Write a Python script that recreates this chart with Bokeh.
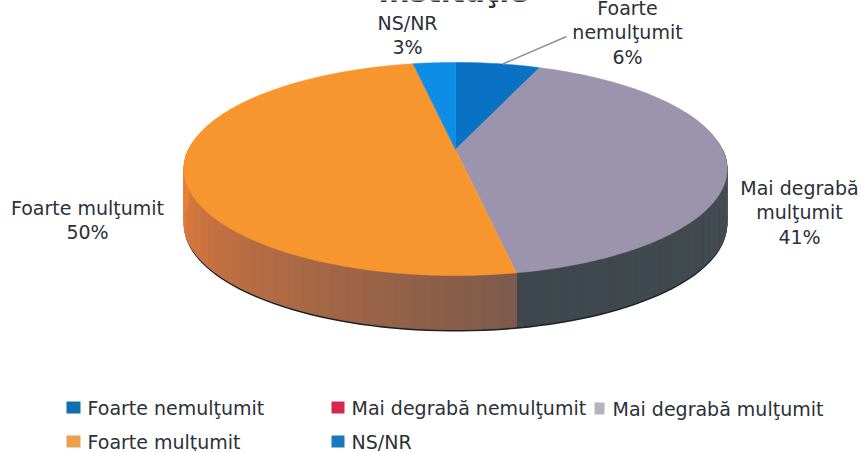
import math
from bokeh.plotting import figure
from bokeh.embed import file_html
from bokeh.resources import INLINE
from bokeh.core.properties import value
from bokeh.models import Range1d

categories = ["Foarte nemulţumit", "Mai degrabă nemulţumit", "Mai degrabă mulţumit", "Foarte mulţumit", "NS/NR"]
values = [6, 0, 41, 50, 3]
top_colors = ["#0a72c4", "#d8274f", "#9b94ac", "#f7962f", "#0d8de6"]
side_start = ["#0a5a9a", "#a01c3c", "#454d52", "#ee7e3a", "#0a6ab0"]
side_end = ["#0a5a9a", "#a01c3c", "#3e474d", "#7c5a4c", "#0a6ab0"]
legend_colors = ["#1070ad", "#d8274f", "#b5b3bd", "#e8a24e", "#1a78bd"]
title_text = "Instituţie"
label_lines = [["Foarte", "nemulţumit", "6%"], [], ["Mai degrabă", "mulţumit", "41%"], ["Foarte mulţumit", "50%"], ["NS/NR", "3%"]]
label_pos = [(628, 8), None, (800, 188), (88, 208), (408, 23)]
legend_pos = [(67, 408), (332, 408), (595, 409), (67, 442), (332, 442)]
legend_widths = [14, 13, 10, 14, 13]

W, H = 859, 451
OX, OY = 1, 1
FONT = "DejaVu Sans"
TEXT = "#2c3038"

CX, AY, A, B, K = 456, 150, 267, 103, 0.183
DEPTH = 54


def rim(deg):
    r = math.radians(deg)
    X, Y = math.sin(r), math.cos(r)
    w = 1 + K * Y
    return CX + A * X / w, AY - B * Y / w


def px(x):
    return x - OX


def py(y):
    return y - OY


p = figure(width=W, height=H, output_backend="svg", toolbar_location=None,
           x_range=Range1d(0, W), y_range=Range1d(H, 0), min_border=0,
           background_fill_color="white", border_fill_color="white")
p.axis.visible = False
p.grid.visible = False
p.outline_line_color = None

total = sum(values)
bounds = []
a = 0.0
for v in values:
    bounds.append((a, a + 360 * v / total))
    a += 360 * v / total


def mix(c1, c2, t):
    a1 = [int(c1[i:i + 2], 16) for i in (1, 3, 5)]
    a2 = [int(c2[i:i + 2], 16) for i in (1, 3, 5)]
    return "#%02x%02x%02x" % tuple(round(u + (w - u) * t) for u, w in zip(a1, a2))


# dark shadow under the rim
low = [rim(d) for d in range(85, 276, 2)]
sx = [px(x) for x, y in low] + [px(x) for x, y in reversed(low)]
sy = [py(y + DEPTH + 2) for x, y in low] + [py(y) for x, y in reversed(low)]
p.patch(sx, sy, fill_color="#1c2228", line_color=None)

# side wall
for i, (s, e) in enumerate(bounds):
    lo, hi = max(s, 90), min(e, 270)
    if hi <= lo:
        continue
    n = max(2, int((hi - lo) / 3))
    for j in range(n):
        d0 = lo + (hi - lo) * j / n
        d1 = lo + (hi - lo) * (j + 1) / n
        x0, y0 = rim(d0)
        x1, y1 = rim(d1)
        t = (j + .5) / n
        if i == 3:
            t = 1 - t
        col = mix(side_start[i], side_end[i], t)
        p.patch([px(x0), px(x1), px(x1), px(x0)],
                [py(y0), py(y1), py(y1 + DEPTH), py(y0 + DEPTH)],
                fill_color=col, line_color=col, line_width=1)

# top faces
for i, (s, e) in enumerate(bounds):
    if e <= s:
        continue
    n = max(2, int(e - s))
    pts = [rim(s + (e - s) * j / n) for j in range(n + 1)]
    p.patch([px(CX)] + [px(x) for x, y in pts], [py(AY)] + [py(y) for x, y in pts],
            fill_color=top_colors[i], line_color=top_colors[i], line_width=0.5)

# leader line
lx, ly = rim(bounds[0][0] + 12)
p.line([px(lx), px(567)], [py(ly), py(37)], line_color="#8d9196", line_width=1.5)

# data labels
for lines, pos in zip(label_lines, label_pos):
    if pos is None:
        continue
    for k, t in enumerate(lines):
        p.text([px(pos[0])], [py(pos[1] + k * 24.5)], text=[t], text_font=value(FONT), text_font_size="19px",
               text_color=TEXT, text_align="center", text_baseline="middle")

# title, cut off by the top of the picture
p.text([px(454)], [py(-8)], text=[title_text], text_font=value(FONT), text_font_size="29px",
       text_font_style="bold", text_color=TEXT, text_align="center", text_baseline="alphabetic")

# legend
for c, col, (x, y), sw in zip(categories, legend_colors, legend_pos, legend_widths):
    p.rect([px(x + sw / 2)], [py(y)], width=sw, height=12, fill_color=col, line_color=None)
    p.text([px(x + sw + 7 if sw > 10 else x + 18)], [py(y)], text=[c], text_font=value(FONT), text_font_size="19px",
           text_color=TEXT, text_align="left", text_baseline="middle")

open("out.html", "w").write(file_html(p, INLINE))
